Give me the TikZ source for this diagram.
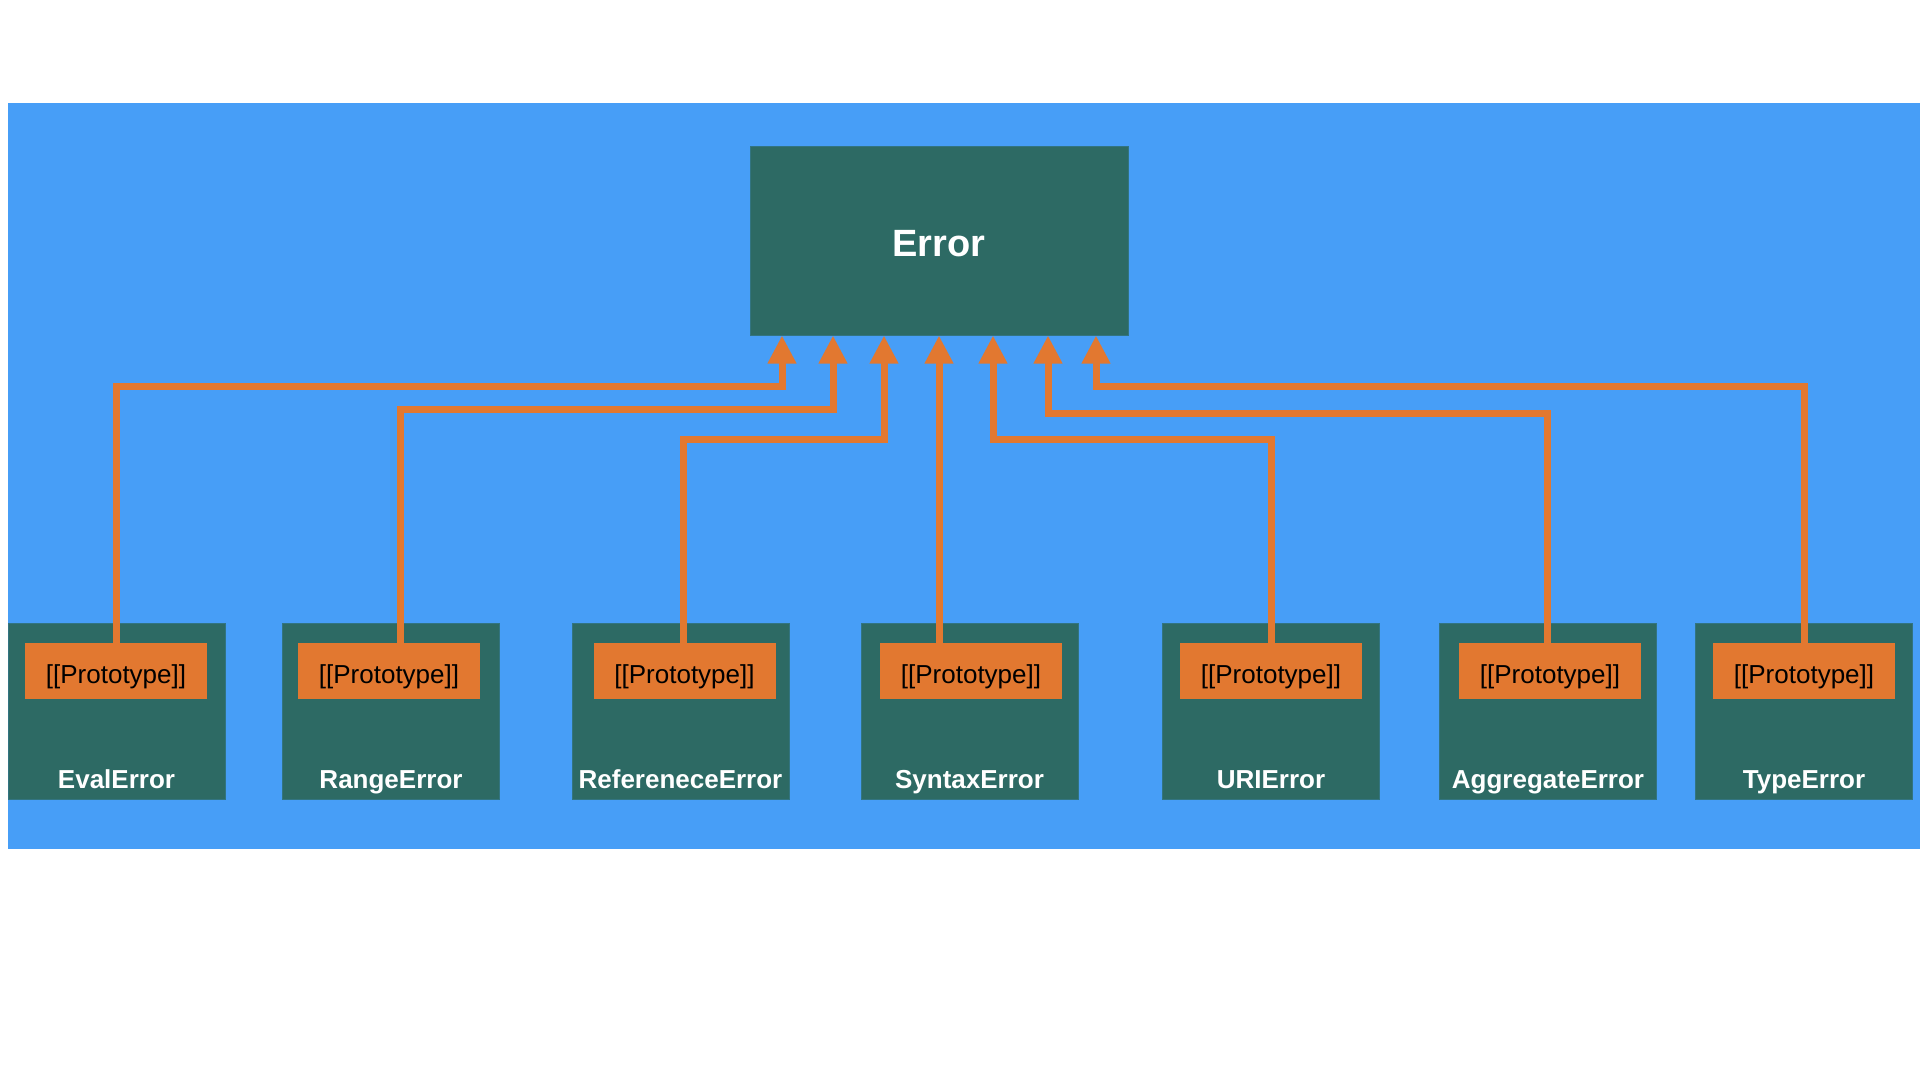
\documentclass[tikz,border=0pt]{standalone}
\usepackage{fontspec}
\setmainfont{Liberation Sans}
\usetikzlibrary{arrows.meta}
\definecolor{bgblue}{RGB}{71,158,247}
\definecolor{boxteal}{RGB}{45,106,100}
\definecolor{protoorange}{RGB}{226,120,48}
\tikzset{
  errbox/.style={fill=boxteal,draw=boxteal!80!bgblue,line width=1pt,minimum width=378pt,minimum height=189pt,text height=33pt,text depth=2pt,text=white,font=\bfseries\fontsize{38}{40}\selectfont},
  subbox/.style={fill=boxteal,draw=boxteal!80!bgblue,line width=1pt,minimum width=217pt,minimum height=176pt},
  protobox/.style={fill=protoorange,minimum width=182pt,minimum height=56pt,inner sep=0pt,text height=25pt,text depth=1pt,font=\fontsize{26}{28}\selectfont},
  sublabel/.style={text=white,inner sep=0pt,anchor=base,font=\bfseries\fontsize{26}{28}\selectfont},
  inherit/.style={-{Triangle[width=27pt,length=28pt]},line width=7pt,protoorange}
}
\begin{document}
\begin{tikzpicture}[x=1pt,y=-1pt]
      \useasboundingbox (0,0) rectangle (1920,1080);
      \fill[bgblue] (8,103) rectangle (1920,849);

      \node[errbox] (err) at (939,240.5) {Error};

      % subclasses: name / box x / prototype x / label
      \foreach \n/\bx/\px/\lab in {eval/116.5/116/EvalError,range/391/389/RangeError,
          ref/680.5/684.5/RefereneceError,syntax/969.5/971/SyntaxError,uri/1271/1271/URIError,
          agg/1548/1550/AggregateError,type/1804/1804/TypeError}{
        \node[subbox] (\n) at (\bx,711) {};
        \node[protobox] (\n-proto) at (\px,671) {[[Prototype]]};
        \node[sublabel] (\n-label) at (\bx,788) {\lab};
      }

      % [[Prototype]] links up to Error
      \foreach \n/\lx/\my/\ax in {eval/116/386/782,range/400/409/833,ref/683/439/884,
          uri/1271/439/993,agg/1547/413/1048,type/1804/386/1096}
        \draw[inherit] (\n-proto.north -| \lx,0) |- (\ax,\my) -- (err.south -| \ax,0);
      \draw[inherit] (syntax-proto.north -| 939,0) -- (err.south -| 939,0);
\end{tikzpicture}
\end{document}
